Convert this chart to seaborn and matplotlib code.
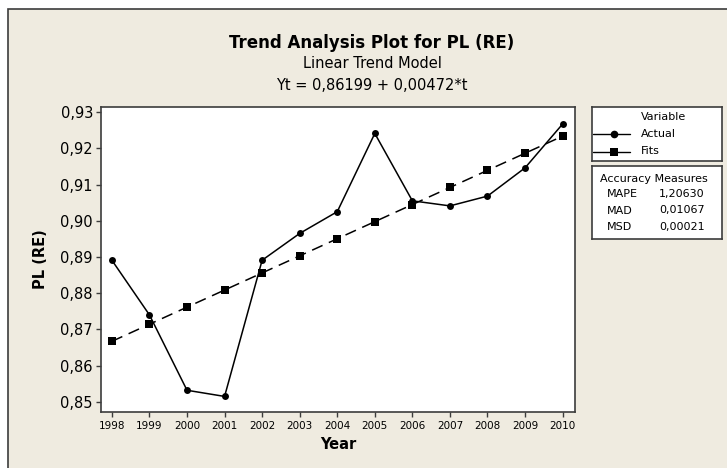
import numpy as np
import pandas as pd
import seaborn as sns
import matplotlib.pyplot as plt
from matplotlib.patches import Rectangle

years = [1998, 1999, 2000, 2001, 2002, 2003, 2004, 2005, 2006, 2007, 2008, 2009, 2010]
actual = [0.8891, 0.8740, 0.8532, 0.8515, 0.8891, 0.8965, 0.9025, 0.9241,
          0.9055, 0.9041, 0.9068, 0.9146, 0.9267]
fits = [0.86671, 0.87143, 0.87615, 0.88087, 0.88559, 0.89031, 0.89503,
        0.89975, 0.90447, 0.90919, 0.91391, 0.91863, 0.92335]
y_ticks = [0.85, 0.86, 0.87, 0.88, 0.89, 0.90, 0.91, 0.92, 0.93]
y_tick_labels = ['0,85', '0,86', '0,87', '0,88', '0,89', '0,90', '0,91', '0,92', '0,93']
acc_names = ['MAPE', 'MAD', 'MSD']
acc_values = ['1,20630', '0,01067', '0,00021']

df = pd.DataFrame({'Year': years, 'Actual': actual, 'Fits': fits})

sns.set_style('white')
plt.rcParams['font.family'] = ['DejaVu Sans']
plt.rcParams['text.color'] = 'black'
plt.rcParams['axes.labelcolor'] = 'black'

W, H = 727, 468
beige = '#EFEBE0'
edge = '#3c3c3c'

fig = plt.figure(figsize=(W / 100, H / 100), dpi=100, facecolor='white')
fig.patches.append(Rectangle((8 / W, -0.05), 1.1, 1 - 9 / H + 0.05, transform=fig.transFigure,
                             facecolor=beige, edgecolor=edge, linewidth=1.2, zorder=-10))

ax = fig.add_axes([101 / W, 1 - 412 / H, (575 - 101) / W, (412 - 107) / H])
ax.set_facecolor('white')

sns.lineplot(data=df, x='Year', y='Actual', ax=ax, color='black', linewidth=1.1,
             marker='o', markersize=5, markeredgecolor='black', markeredgewidth=0)
sns.lineplot(data=df, x='Year', y='Fits', ax=ax, color='black', linewidth=1.1,
             linestyle=(0, (7.5, 4.5)), marker='s', markersize=5.2, markeredgecolor='black',
             markeredgewidth=0)

ax.set_xlim(1997.71, 2010.33)
ax.set_ylim(0.8472, 0.9314)
ax.set_xticks(years)
ax.set_xticklabels([str(y) for y in years], fontsize=7.5)
ax.set_yticks(y_ticks)
ax.set_yticklabels(y_tick_labels, fontsize=10.5)
ax.tick_params(axis='both', direction='out', length=3.8, width=1, color=edge,
               labelcolor='black', left=True, bottom=True)
ax.tick_params(axis='y', pad=2)
ax.tick_params(axis='x', pad=3)
for s in ax.spines.values():
    s.set_visible(True)
    s.set_color(edge)
    s.set_linewidth(1.2)

ax.set_xlabel('Year', fontsize=10.5, fontweight='bold')
ax.xaxis.set_label_coords(0.5, -0.082)
ax.set_ylabel('PL (RE)', fontsize=10.5, fontweight='bold')
ax.yaxis.set_label_coords(-0.112, 0.5)

cx = 372 / W
fig.text(cx, 1 - 48 / H, 'Trend Analysis Plot for PL (RE)', fontsize=12, fontweight='bold',
         ha='center', va='baseline')
fig.text(cx, 1 - 68 / H, 'Linear Trend Model', fontsize=10.5, ha='center', va='baseline')
fig.text(cx, 1 - 90 / H, 'Yt = 0,86199 + 0,00472*t', fontsize=10.5, ha='center', va='baseline')


def box_axes(rect):
    b = fig.add_axes(rect)
    b.set_facecolor('white')
    b.set_xticks([])
    b.set_yticks([])
    for s in b.spines.values():
        s.set_visible(True)
        s.set_color(edge)
        s.set_linewidth(1.2)
    return b


# legend box (pixel units inside the box)
lg = box_axes([592 / W, 1 - 161 / H, 130 / W, 54 / H])
lg.set_xlim(0, 130)
lg.set_ylim(54, 0)
lg.text(49, 10, 'Variable', fontsize=8, va='center', ha='left')
for i, (name, mk) in enumerate([('Actual', 'o'), ('Fits', 's')]):
    yy = 27 + i * 17.5
    lg.plot([1, 38], [yy, yy], color='black', lw=1.0)
    lg.plot([22], [yy], color='black', marker=mk, markersize=5.5, markeredgewidth=0)
    lg.text(49, yy, name, fontsize=8, va='center', ha='left')

# accuracy box
acc = box_axes([592 / W, 1 - 239 / H, 130 / W, 73 / H])
acc.set_xlim(0, 130)
acc.set_ylim(73, 0)
acc.text(8.5, 13, 'Accuracy Measures', fontsize=8, va='center', ha='left')
for i, (n, v) in enumerate(zip(acc_names, acc_values)):
    acc.text(15, 28 + i * 16.5, n, fontsize=8, va='center', ha='left')
    acc.text(67, 28 + i * 16.5, v, fontsize=8, va='center', ha='left')

fig.savefig('out.png', dpi=100, facecolor=fig.get_facecolor())
